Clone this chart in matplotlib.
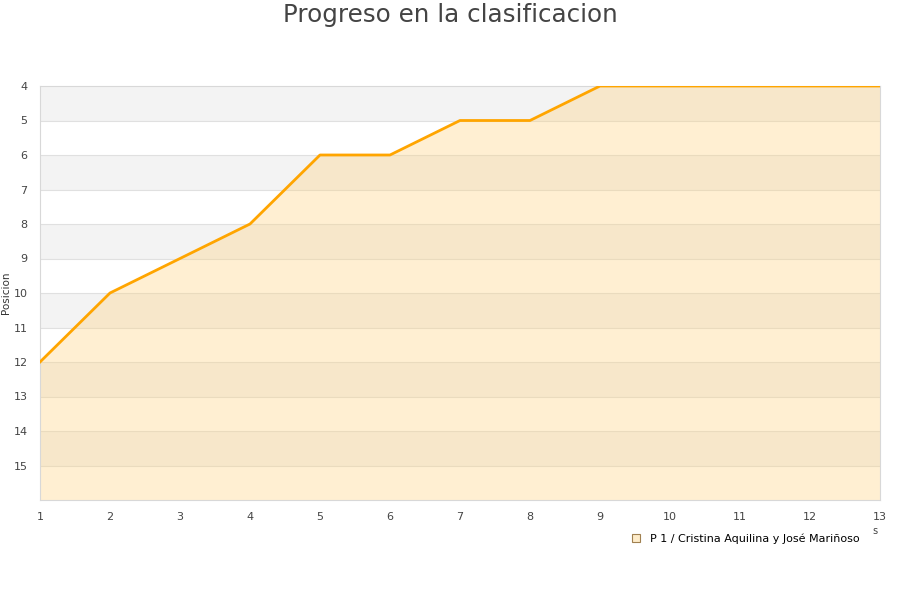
import matplotlib
matplotlib.use("Agg")
import matplotlib.pyplot as plt
from matplotlib.lines import Line2D

jornadas = [1, 2, 3, 4, 5, 6, 7, 8, 9, 10, 11, 12, 13]
posicion = [12, 10, 9, 8, 6, 6, 5, 5, 4, 4, 4, 4, 4]
serie = "P 1 / Cristina Aquilina y José Mariñoso"

fig = plt.figure(figsize=(9, 6), dpi=100)
ax = fig.add_axes([40/900, 1-500/600, 840/900, 414/600])

# bandas alternas
for y0 in range(4, 16, 2):
    ax.axhspan(y0, y0 + 1, color="#f3f3f3", zorder=0, lw=0)
for y in range(5, 16):
    ax.axhline(y, color="#e0e0e0", lw=0.8, zorder=1)

ax.fill_between(jornadas, posicion, 16, color="#ffd27f", alpha=0.35, lw=0, zorder=2)
ax.plot(jornadas, posicion, color="#ffa500", lw=2, zorder=3)

ax.set_xlim(1, 13)
ax.set_ylim(16, 4)
ax.set_xticks(jornadas)
ax.set_yticks(range(4, 16))
ax.tick_params(length=0, labelsize=8, colors="#444444", pad=9)
for s in ax.spines.values():
    s.set_color("#d8d8d8")
ax.set_ylabel("Posicion", fontsize=7.5, color="#333333")
ax.yaxis.set_label_coords(-0.034, 0.5)

fig.text(0.5, 1-15/600, "Progreso en la clasificacion", ha="center", va="center",
         fontsize=17.7, color="#444444")
fig.text(875/900, 1-531/600, "s", ha="center", va="center", fontsize=7, color="#444444")

h = Line2D([], [], marker="s", ls="", markersize=6, markerfacecolor="#feecca",
           markeredgecolor="#a08050", markeredgewidth=0.8)
fig.legend([h], [serie], loc="center right", bbox_to_anchor=(870/900, 1-539/600),
           frameon=False, fontsize=8, handletextpad=0.3)

fig.savefig("out.png", dpi=100)
